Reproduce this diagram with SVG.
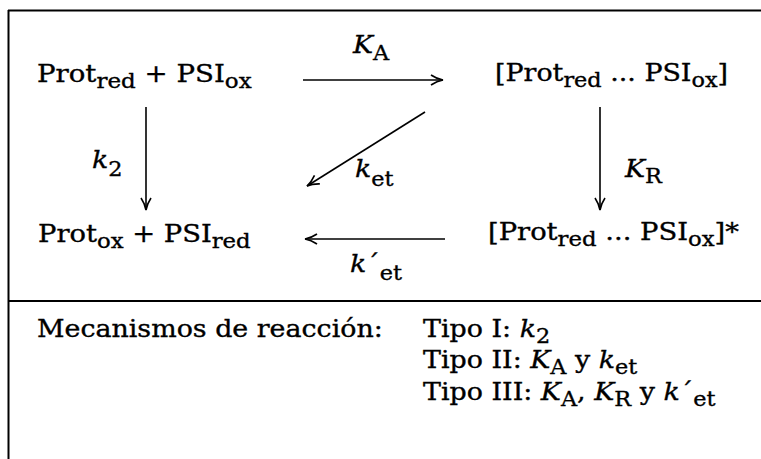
<svg xmlns="http://www.w3.org/2000/svg" width="761" height="459" viewBox="0 0 761 459">
<style>
text{font-family:"DejaVu Serif","Liberation Serif",serif;font-size:24px;fill:#000;stroke:#000;stroke-width:0.35}
.sub{font-size:20px}
.it{font-style:italic}
.frame{stroke:#000;stroke-width:2;fill:none}
.arr{stroke:#000;stroke-width:1.6;fill:none;marker-end:url(#ah)}
</style>
<defs>
<marker id="ah" viewBox="0 0 14 12" refX="13" refY="6" markerWidth="14" markerHeight="12" markerUnits="userSpaceOnUse" orient="auto">
<path d="M1,1 Q7,5 13,6 Q7,7 1,11" fill="none" stroke="#000" stroke-width="1.6"/>
</marker>
</defs>
<rect width="761" height="459" fill="#fff"/>
<g id="frame">
<line class="frame" x1="8" y1="10.5" x2="761" y2="10.5"/>
<line class="frame" x1="8.5" y1="10" x2="8.5" y2="459"/>
<line class="frame" x1="8" y1="301" x2="761" y2="301"/>
</g>
<g id="n1"><text transform="translate(37,82) scale(1.15,1)">Prot<tspan class="sub" dy="6">red</tspan><tspan dy="-6"> + PSI</tspan><tspan class="sub" dy="6">ox</tspan></text></g>
<g id="n2"><text transform="translate(495,81) scale(1.12,1)">[Prot<tspan class="sub" dy="6">red</tspan><tspan dy="-6"> ... PSI</tspan><tspan class="sub" dy="6">ox</tspan><tspan dy="-6">]</tspan></text></g>
<g id="n3"><text transform="translate(38,242) scale(1.14,1)">Prot<tspan class="sub" dy="6">ox</tspan><tspan dy="-6"> + PSI</tspan><tspan class="sub" dy="6">red</tspan></text></g>
<g id="n4"><text transform="translate(488,240) scale(1.14,1)">[Prot<tspan class="sub" dy="6">red</tspan><tspan dy="-6"> ... PSI</tspan><tspan class="sub" dy="6">ox</tspan><tspan dy="-6">]*</tspan></text></g>
<g id="connectors">
<line class="arr" x1="303" y1="80" x2="443" y2="80"/>
<line class="arr" x1="146" y1="107" x2="146" y2="210"/>
<line class="arr" x1="600" y1="107" x2="600" y2="210"/>
<line class="arr" x1="425" y1="112" x2="307" y2="186"/>
<line class="arr" x1="445" y1="239" x2="305" y2="239"/>
<text transform="translate(353,53) scale(1.12,1)"><tspan class="it">K</tspan><tspan class="sub" dy="7">A</tspan></text>
<text transform="translate(92,168) scale(1.12,1)"><tspan class="it">k</tspan><tspan class="sub" dy="8">2</tspan></text>
<text transform="translate(625,177) scale(1.12,1)"><tspan class="it">K</tspan><tspan class="sub" dy="6">R</tspan></text>
<text transform="translate(355,177) scale(1.12,1)"><tspan class="it">k</tspan><tspan class="sub" dy="9">et</tspan></text>
<text transform="translate(350,272) scale(1.12,1)"><tspan class="it">k</tspan><tspan>´</tspan><tspan class="sub" dy="8">et</tspan></text>
</g>
<g id="legend">
<text transform="translate(37,337) scale(1.12,1)">Mecanismos de reacción:</text>
<text transform="translate(423,337) scale(1.12,1)">Tipo I: <tspan class="it">k</tspan><tspan class="sub" dy="6">2</tspan></text>
<text transform="translate(423,368) scale(1.12,1)">Tipo II: <tspan class="it">K</tspan><tspan class="sub" dy="6">A</tspan><tspan dy="-6"> y </tspan><tspan class="it">k</tspan><tspan class="sub" dy="6">et</tspan></text>
<text transform="translate(423,400) scale(1.12,1)">Tipo III: <tspan class="it">K</tspan><tspan class="sub" dy="6">A</tspan><tspan dy="-6">, </tspan><tspan class="it">K</tspan><tspan class="sub" dy="6">R</tspan><tspan dy="-6"> y </tspan><tspan class="it">k</tspan><tspan>´</tspan><tspan class="sub" dy="6">et</tspan></text>
</g>
</svg>
